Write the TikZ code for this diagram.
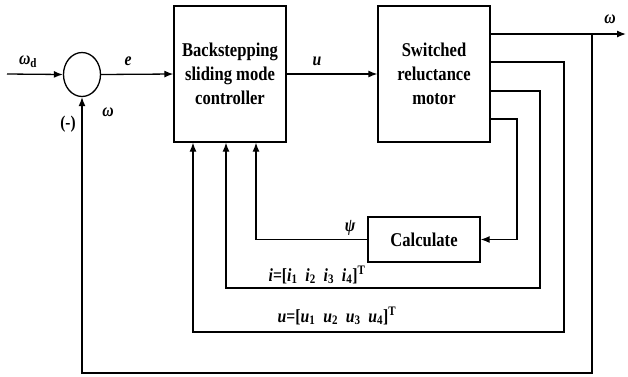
\documentclass[tikz,border=0pt]{standalone}
\usepackage{fontspec}
\setmainfont[FakeStretch=0.85]{Liberation Serif}
\usetikzlibrary{arrows.meta,shapes.geometric}

\begin{document}
\begin{tikzpicture}[
    x=1pt, y=-1pt,
    block/.style={
      draw, line width=1.3pt, minimum width=112pt, minimum height=136pt,
      align=center, font=\bfseries\fontsize{19.5}{24}\selectfont,
    },
    sumnode/.style={draw, ellipse, line width=1.3pt, minimum width=37pt,
      minimum height=44pt, inner sep=0pt},
    sig/.style={line width=1.3pt, -{Latex[length=9pt,width=7pt]}},
    lbl/.style={font=\bfseries\itshape\fontsize{18.5}{20}\selectfont},
  ]
  \useasboundingbox (0,0) rectangle (628,376);

  % ===== blocks =====
  \node[sumnode] (sum) at (82,74.5) {};
  \node[block] (ctrl) at (230,74) {Backstepping\\sliding mode\\controller};
  \node[block] (srm)  at (434,74) {Switched\\reluctance\\motor};
  \node[block, minimum height=45pt] (calc) at (424,239.5) {Calculate};

  % ===== corner points of the wires =====
  \coordinate (in)   at (7,74);
  \coordinate (wout) at (626,34);
  \coordinate (wbr)  at (592,34);     % speed branch
  \coordinate (wbot) at (592,373);
  \coordinate (uR)   at (564,332);
  \coordinate (iR)   at (540,288);
  \coordinate (pR)   at (517,239.5);

  % ===== forward path =====
  \draw[sig] (in) -- (sum.west);
  \draw[sig] (sum.east) -- (ctrl.west);
  \draw[sig] (ctrl.east) -- (srm.west);
  \draw[sig] ([yshift=40pt]srm.east) -- (wout);

  % ===== feedback paths =====
  \draw[sig] (wbr) -- (wbot) -| (sum.south);
  \draw[sig] ([yshift=12pt]srm.east) -| (uR) -| ([xshift=-37pt]ctrl.south);
  \draw[sig] ([yshift=-17pt]srm.east) -| (iR) -| ([xshift=-4pt]ctrl.south);
  \draw[sig] ([yshift=-45pt]srm.east) -| (pR) -- (calc.east);
  \draw[sig] (calc.west) -| ([xshift=26pt]ctrl.south);

  % ===== signal labels =====
  \node[lbl] (lwd) at (28,62) {ω\textsubscript{\upshape d}};
  \node[lbl] (le)  at (128,61) {e};
  \node[lbl] (lu)  at (317,61) {u};
  \node[lbl] (lw)  at (610,19) {ω};
  \node[lbl] (lwf) at (108,112) {ω};
  \node[font=\bfseries\fontsize{18}{20}\selectfont] (lneg) at (68,124) {(-)};
  \node[lbl] (lpsi) at (350,228) {ψ};
  \node[lbl] (li) at (317,275)
    {i{\upshape =[}i\textsubscript{\upshape 1}\ \ i\textsubscript{\upshape 2}\ \ i\textsubscript{\upshape 3}\ \ i\textsubscript{\upshape 4}{\upshape ]}\textsuperscript{\upshape T}};
  \node[lbl] (lvec) at (337,316)
    {u{\upshape =[}u\textsubscript{\upshape 1}\ \ u\textsubscript{\upshape 2}\ \ u\textsubscript{\upshape 3}\ \ u\textsubscript{\upshape 4}{\upshape ]}\textsuperscript{\upshape T}};
\end{tikzpicture}
\end{document}
